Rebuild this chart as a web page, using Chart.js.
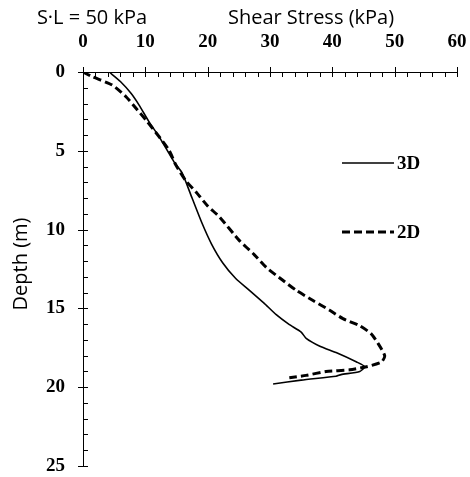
<!DOCTYPE html>
<html>
<head>
<meta charset="utf-8">
<script src="https://cdn.jsdelivr.net/npm/chart.js@4.4.1/dist/chart.umd.min.js"></script>
<style>
html,body{margin:0;padding:0;background:#fff;}
#wrap{width:470px;height:477px;position:relative;}
</style>
</head>
<body>
<div id="wrap"><canvas id="c" width="470" height="477"></canvas></div>
<script>
// Data
const shear3D = [4.2, 6.0, 7.7, 9.0, 10.5, 12.2, 14.6, 15.9, 17.5, 19.1, 20.6, 22.4, 24.5, 26.7, 29.0, 31.0, 33.0, 35.0, 35.8, 38.0, 40.6, 43.9, 45.2, 44.4, 41.4, 40.6, 35.0, 30.5];
const depth3D = [0, 0.6, 1.35, 2.1, 3.1, 4.1, 5.7, 6.4, 8.0, 9.6, 10.9, 12.1, 13.1, 13.85, 14.65, 15.4, 16.0, 16.5, 16.9, 17.4, 17.8, 18.4, 18.7, 19.0, 19.2, 19.3, 19.55, 19.8];
const shear2D = [0, 1.5, 4.7, 6.9, 8.5, 10.1, 12.0, 13.8, 14.9, 16.5, 18.1, 20.0, 21.9, 25.1, 27.5, 29.4, 32.0, 34.2, 36.9, 39.5, 41.7, 44.4, 46.2, 47.3, 48.4, 47.9, 45.5, 42.8, 39.0, 35.8, 33.1];
const depth2D = [0, 0.3, 0.83, 1.57, 2.3, 3.05, 4.0, 4.96, 5.9, 6.9, 7.6, 8.5, 9.2, 10.7, 11.6, 12.4, 13.2, 13.85, 14.5, 15.1, 15.65, 16.1, 16.6, 17.2, 18.0, 18.4, 18.7, 18.9, 19.0, 19.25, 19.4];
const seriesNames = ["3D", "2D"];
const xTicks = [0, 10, 20, 30, 40, 50, 60];
const yTicks = [0, 5, 10, 15, 20, 25];
const xTitle = "Shear Stress (kPa)";
const yTitle = "Depth (m)";
const caseLabel = "S\u00B7L = 50 kPa";

const toPts = (xs, ys) => xs.map((v, i) => ({x: v, y: ys[i]}));
const tickFont = {family: "Liberation Serif", size: 19, weight: "bold"};

const decor = {
  id: 'decor',
  afterDraw(chart) {
    const ctx = chart.ctx;
    const xs = chart.scales.x, ys = chart.scales.y;
    const top = chart.chartArea.top, left = chart.chartArea.left;
    ctx.save();
    ctx.strokeStyle = '#000';
    ctx.lineWidth = 1;
    ctx.beginPath();
    for (let v = xTicks[0]; v <= xTicks[xTicks.length - 1] + 1e-9; v += 2) {
      const p = Math.round(xs.getPixelForValue(v)) + 0.5;
      const major = Math.abs(v % 10) < 1e-9;
      ctx.moveTo(p, major ? top - 5 : top);
      ctx.lineTo(p, top + 5);
    }
    for (let v = yTicks[0]; v <= yTicks[yTicks.length - 1] + 1e-9; v += 1) {
      const p = Math.round(ys.getPixelForValue(v)) + 0.5;
      const major = Math.abs(v % 5) < 1e-9;
      ctx.moveTo(major ? left - 5 : left, p);
      ctx.lineTo(left + 5, p);
    }
    ctx.stroke();

    // titles
    ctx.fillStyle = '#000';
    ctx.font = '20px "Open Sans"';
    ctx.textBaseline = 'middle';
    ctx.textAlign = 'center';
    ctx.fillText(caseLabel, 92, 18);
    ctx.fillText(xTitle, 311, 18);
    ctx.save();
    ctx.translate(21, 264);
    ctx.rotate(-Math.PI / 2);
    ctx.fillText(yTitle, 0, 0);
    ctx.restore();

    // legend
    const ds = chart.data.datasets;
    const lx0 = 342, lx1 = 394;
    const ly = [163, 232];
    ds.forEach((d, i) => {
      ctx.beginPath();
      ctx.lineWidth = d.borderWidth;
      ctx.setLineDash(d.borderDash || []);
      ctx.moveTo(lx0, ly[i]);
      ctx.lineTo(lx1, ly[i]);
      ctx.stroke();
      ctx.setLineDash([]);
      ctx.font = 'bold 19px "Liberation Serif"';
      ctx.textAlign = 'left';
      ctx.fillText(d.label, 397, ly[i] + 1);
    });
    ctx.restore();
  }
};

const zeroPad = s => { s.paddingLeft = 0; s.paddingRight = 0; s.paddingTop = 0; s.paddingBottom = 0; };

new Chart(document.getElementById('c'), {
  type: 'scatter',
  data: {
    datasets: [
      {label: seriesNames[0], data: toPts(shear3D, depth3D), showLine: true, borderColor: '#000', borderWidth: 1.6, pointRadius: 0, tension: 0.2, fill: false},
      {label: seriesNames[1], data: toPts(shear2D, depth2D), showLine: true, borderColor: '#000', borderWidth: 3, borderDash: [8, 4], pointRadius: 0, tension: 0.2, fill: false}
    ]
  },
  options: {
    responsive: false,
    animation: false,
    layout: {padding: {left: 0, right: 13, top: 0, bottom: 11}},
    plugins: {legend: {display: false}, tooltip: {enabled: false}},
    scales: {
      x: {
        type: 'linear', position: 'top', min: 0, max: 60,
        afterBuildTicks: s => { s.ticks = xTicks.map(v => ({value: v})); },
        afterFit: s => { s.height = 72; zeroPad(s); },
        grid: {display: true, drawOnChartArea: false, drawTicks: false},
        border: {display: true, color: '#000', width: 1},
        ticks: {font: tickFont, color: '#000', padding: 19, maxRotation: 0}
      },
      y: {
        type: 'linear', position: 'left', min: 0, max: 25, reverse: true,
        afterBuildTicks: s => { s.ticks = yTicks.map(v => ({value: v})); },
        afterFit: s => { s.width = 83; zeroPad(s); },
        grid: {display: true, drawOnChartArea: false, drawTicks: false},
        border: {display: true, color: '#000', width: 1},
        ticks: {font: tickFont, color: '#000', padding: 18}
      }
    }
  },
  plugins: [decor]
});
</script>
</body>
</html>
